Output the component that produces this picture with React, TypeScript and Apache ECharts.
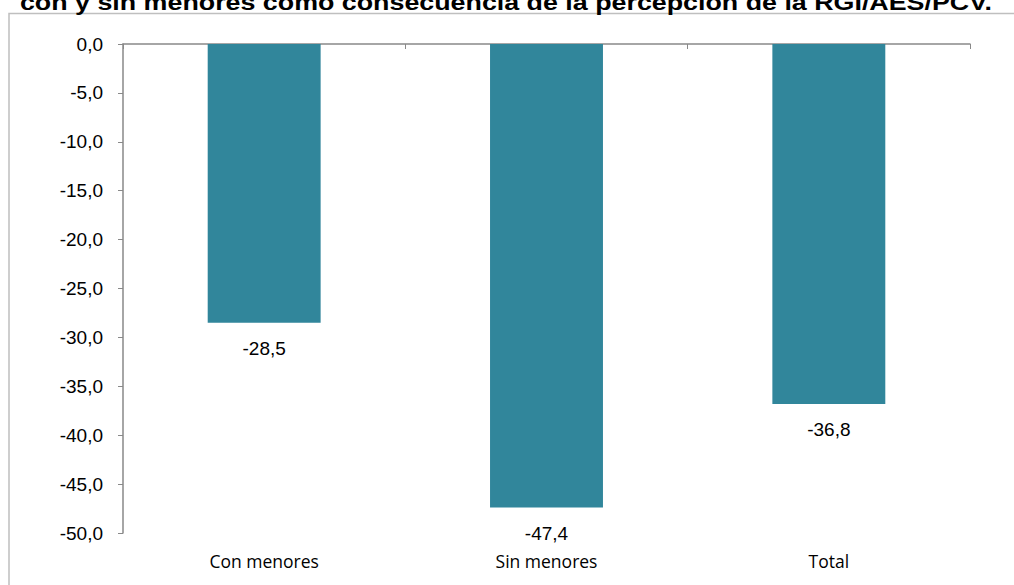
import React, { useEffect, useRef } from "react";
import * as echarts from "echarts";

const titleText = "con y sin menores como consecuencia de la percepción de la RGI/AES/PCV.";
const categories = ["Con menores", "Sin menores", "Total"];
const values = [-28.5, -47.4, -36.8];
const yMin = -50;
const yMax = 0;
const yInterval = 5;

const fmt = (v: number) => v.toFixed(1).replace(".", ",");

export default function App() {
  const ref = useRef<HTMLDivElement>(null);
  useEffect(() => {
    if (!ref.current) return;
    const chart = echarts.init(ref.current, undefined, { renderer: "svg" });
    chart.setOption({
      animation: false,
      backgroundColor: "#ffffff",
      graphic: [
        {
          type: "rect",
          shape: { x: 9, y: 13.5, width: 1200, height: 800 },
          style: { fill: "none", stroke: "#bfbfbf", lineWidth: 1.5 },
          silent: true,
          z: 0,
        },
        {
          type: "text",
          x: 506,
          y: 1.9,
          scaleX: 1.22,
          style: {
            text: titleText,
            font: "bold 22px 'Liberation Sans', Arial, sans-serif",
            fill: "#000000",
            align: "center",
            verticalAlign: "middle",
          },
          z: 10,
        },
      ],
      grid: { left: 123, right: 44, top: 44, bottom: 52, containLabel: false },
      xAxis: [
        {
          type: "category",
          data: categories,
          axisLine: { onZero: true, lineStyle: { color: "#898989", width: 1.5 } },
          axisTick: { show: true, inside: false, length: 5, lineStyle: { color: "#898989" } },
          axisLabel: { show: false },
        },
        {
          type: "category",
          data: categories,
          position: "bottom",
          axisLine: { show: false, onZero: false },
          axisTick: { show: false },
          axisLabel: {
            show: true,
            margin: 19,
            fontSize: 17.5,
            fontFamily: "'Open Sans', sans-serif",
            color: "#000000",
          },
        },
      ],
      yAxis: {
        type: "value",
        min: yMin,
        max: yMax,
        interval: yInterval,
        axisLine: { show: true, lineStyle: { color: "#898989", width: 1.5 } },
        axisTick: { show: true, length: 5, lineStyle: { color: "#898989" } },
        splitLine: { show: false },
        axisLabel: {
          margin: 20,
          fontSize: 19,
          fontFamily: "'Liberation Sans', Arial, sans-serif",
          color: "#000000",
          formatter: (v: number) => fmt(v),
        },
      },
      series: [
        {
          type: "bar",
          xAxisIndex: 0,
          data: values,
          barWidth: "40%",
          itemStyle: { color: "#31869b" },
          label: {
            show: true,
            position: "bottom",
            distance: 16,
            fontSize: 19,
            fontFamily: "'Liberation Sans', Arial, sans-serif",
            color: "#000000",
            formatter: (p: any) => fmt(p.value),
          },
        },
      ],
    });
    return () => chart.dispose();
  }, []);
  return (
    <div
      ref={ref}
      style={{ position: "fixed", left: 0, top: 0, width: 1014, height: 585 }}
    />
  );
}
